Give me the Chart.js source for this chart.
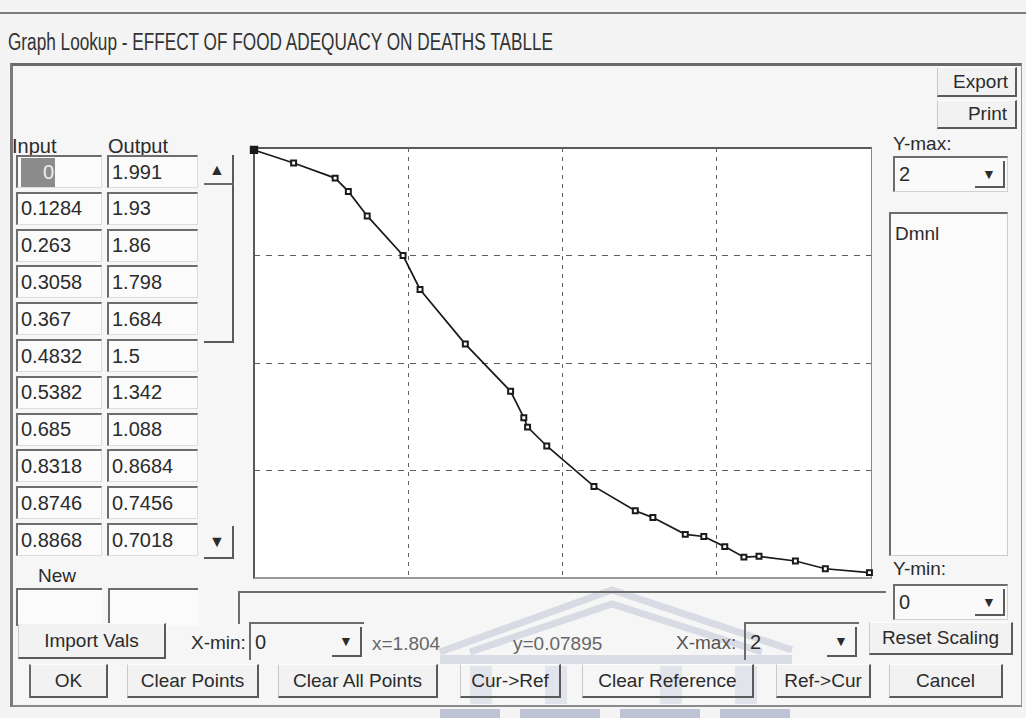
<!DOCTYPE html>
<html><head><meta charset="utf-8">
<script src="https://cdn.jsdelivr.net/npm/chart.js@4/dist/chart.umd.min.js"></script>
<style>
html,body{margin:0;padding:0;}
body{width:1026px;height:718px;position:relative;overflow:hidden;background:#f4f4f4;font-family:"Liberation Sans",Arial,sans-serif;color:#2b2b2b;}
.a{position:absolute;box-sizing:border-box;}
.t{position:absolute;white-space:pre;line-height:1;font-size:20px;color:#2b2b2b;}
.cell{position:absolute;box-sizing:border-box;background:#fbfbfb;border-top:2px solid #6d6d6d;border-left:2px solid #6d6d6d;border-bottom:1px solid #dcdcdc;border-right:1px solid #dcdcdc;font-size:20px;padding-left:3px;display:flex;align-items:center;white-space:pre;}
.btn{position:absolute;box-sizing:border-box;background:#f2f2f2;border-top:1px solid #fdfdfd;border-left:1px solid #c9c9c9;border-right:2px solid #5a5a5a;border-bottom:2px solid #5a5a5a;display:flex;align-items:center;justify-content:center;font-size:19px;white-space:pre;}
.combo{position:absolute;box-sizing:border-box;background:#fafafa;border-top:2px solid #6d6d6d;border-left:2px solid #6d6d6d;border-bottom:1px solid #d0d0d0;border-right:1px solid #d0d0d0;font-size:20px;padding-left:4px;display:flex;align-items:center;}
.dd{position:absolute;top:3px;bottom:3px;right:2px;width:30px;box-sizing:border-box;border-right:2px solid #5a5a5a;border-bottom:2px solid #5a5a5a;display:flex;align-items:center;justify-content:center;font-size:14px;}
</style></head>
<body>
<div class="a" style="left:0;top:12px;width:1026px;height:2px;background:#7a7a7a"></div>
<div class="t" id="title" style="left:8px;top:31px;font-size:23px;color:#333">Graph Lookup - EFFECT OF FOOD ADEQUACY ON DEATHS TABLLE</div>

<!-- main frame -->
<div class="a" style="left:10px;top:63px;width:1012px;height:644px;border-top:3px solid #6a6a6a;border-left:3px solid #7a7a7a;border-right:1px solid #9a9a9a;border-bottom:2px solid #8a8a8a;background:#f6f6f6"></div>

<svg class="a" style="left:0;top:0" width="1026" height="718">
  <g fill="none" stroke="#d8dbe4" stroke-width="7">
    <polyline points="440,652 612,590 792,650"/>
    <polyline points="470,652 612,604 762,652"/>
  </g>
  <rect x="440" y="655" width="352" height="9" fill="#dadde6"/>
  <rect x="470" y="666" width="22" height="38" fill="#e2e4ec"/>
  <rect x="545" y="666" width="22" height="38" fill="#e2e4ec"/>
  <rect x="660" y="666" width="22" height="38" fill="#e2e4ec"/>
  <rect x="735" y="666" width="22" height="38" fill="#e2e4ec"/>
  <rect x="440" y="709" width="60" height="9" fill="#bfc3d6"/>
  <rect x="520" y="709" width="80" height="9" fill="#bfc3d6"/>
  <rect x="620" y="709" width="80" height="9" fill="#bfc3d6"/>
  <rect x="720" y="709" width="70" height="9" fill="#bfc3d6"/>
</svg>

<div class="btn" style="left:937px;top:67px;width:80px;height:30px;justify-content:flex-end;padding-right:7px">Export</div>
<div class="btn" style="left:937px;top:100px;width:80px;height:29px;justify-content:flex-end;padding-right:8px">Print</div>

<div class="t" style="left:12px;top:136px">Input</div>
<div class="t" style="left:108px;top:136px">Output</div>

<div id="table"></div>

<!-- scroll bar -->
<div class="a" style="left:204px;top:155px;width:30px;height:188px;border-right:2px solid #5a5a5a;border-bottom:2px solid #5a5a5a;"></div>
<div class="a" style="left:204px;top:183px;width:30px;height:2px;background:#6a6a6a"></div>
<div class="t" style="left:209px;top:162px;font-size:16px">▲</div>
<div class="a" style="left:204px;top:526px;width:30px;height:33px;border-right:2px solid #5a5a5a;border-bottom:2px solid #5a5a5a;"></div>
<div class="t" style="left:209px;top:534px;font-size:16px">▼</div>

<div class="t" style="left:38px;top:566px;font-size:19px">New</div>
<div class="cell" style="left:16px;top:588px;width:86px;height:38px;border-bottom:none;border-right:none"></div>
<div class="cell" style="left:108px;top:588px;width:90px;height:38px;border-bottom:none;border-right:none"></div>

<!-- status box below plot -->
<div class="a" style="left:238px;top:591px;width:648px;height:33px;border-top:2px solid #6d6d6d;border-left:2px solid #6d6d6d;"></div>

<!-- plot -->
<div class="a" style="left:253px;top:147px;width:619px;height:432px;background:#fff;border-top:2px solid #5a5a5a;border-left:2px solid #5a5a5a;border-right:1px solid #8a8a8a;border-bottom:2px solid #9a9a9a"></div>
<div class="a" style="left:245px;top:139px;width:634px;height:448px"><canvas id="c" width="634" height="448"></canvas></div>

<!-- right panel -->
<div class="t" style="left:893px;top:134px;font-size:19px">Y-max:</div>
<div class="combo" style="left:893px;top:156px;width:115px;height:36px"><span id="ymaxv"></span><div class="dd">▼</div></div>
<div class="a" style="left:889px;top:212px;width:119px;height:344px;background:#fbfbfb;border-top:2px solid #6d6d6d;border-left:2px solid #6d6d6d;border-right:1px solid #ccc;border-bottom:1px solid #ccc"></div>
<div class="t" id="units" style="left:895px;top:224px;font-size:19px"></div>
<div class="t" style="left:893px;top:559px;font-size:19px">Y-min:</div>
<div class="combo" style="left:893px;top:584px;width:115px;height:36px"><span id="yminv"></span><div class="dd">▼</div></div>

<!-- lower controls -->
<div class="btn" style="left:18px;top:623px;width:148px;height:36px">Import Vals</div>
<div class="t" style="left:191px;top:633px;font-size:19px">X-min:</div>
<div class="combo" style="left:249px;top:622px;width:115px;height:38px;background:transparent;border-bottom:none;border-right:none"><span id="xminv"></span><div class="dd">▼</div></div>
<div class="t" id="curx" style="left:372px;top:634px;font-size:19px;color:#666"></div>
<div class="t" id="cury" style="left:513px;top:634px;font-size:19px;color:#666"></div>
<div class="t" style="left:676px;top:633px;font-size:19px;color:#555">X-max:</div>
<div class="combo" style="left:744px;top:622px;width:115px;height:38px;background:transparent;border-bottom:none;border-right:none"><span id="xmaxv"></span><div class="dd">▼</div></div>
<div class="btn" style="left:869px;top:622px;width:144px;height:33px">Reset Scaling</div>

<div class="btn" style="left:29px;top:664px;width:79px;height:34px;border-left:2px solid #6a6a6a">OK</div>
<div class="btn" style="left:127px;top:664px;width:132px;height:34px">Clear Points</div>
<div class="btn" style="left:278px;top:664px;width:160px;height:34px">Clear All Points</div>
<div class="btn" style="left:460px;top:664px;width:101px;height:34px;background:transparent">Cur-&gt;Ref</div>
<div class="btn" style="left:582px;top:664px;width:172px;height:34px;background:transparent">Clear Reference</div>
<div class="btn" style="left:776px;top:664px;width:95px;height:34px">Ref-&gt;Cur</div>
<div class="btn" style="left:889px;top:664px;width:114px;height:34px">Cancel</div>

<script>
// ---- data ----
const inputs  = [0, 0.1284, 0.263, 0.3058, 0.367, 0.4832, 0.5382, 0.685, 0.8318, 0.8746, 0.8868, 0.949, 1.102, 1.236, 1.293, 1.398, 1.458, 1.526, 1.588, 1.637, 1.755, 1.852, 1.995];
const outputs = [1.991, 1.93, 1.86, 1.798, 1.684, 1.5, 1.342, 1.088, 0.8684, 0.7456, 0.7018, 0.614, 0.426, 0.313, 0.281, 0.203, 0.193, 0.146, 0.097, 0.101, 0.079, 0.043, 0.025];
const visibleRows = 11;
const xMin = 0, xMax = 2, yMin = 0, yMax = 2;
const gridStep = 0.5;
const unitsLabel = "Dmnl";
const cursorX = "x=1.804", cursorY = "y=0.07895";

// ---- text fields ----
document.getElementById('ymaxv').textContent = String(yMax);
document.getElementById('yminv').textContent = String(yMin);
document.getElementById('xminv').textContent = String(xMin);
document.getElementById('xmaxv').textContent = String(xMax);
document.getElementById('units').textContent = unitsLabel;
document.getElementById('curx').textContent = cursorX;
document.getElementById('cury').textContent = cursorY;

const tbl = document.getElementById('table');
for (let i = 0; i < visibleRows; i++) {
  const top = 155 + i * 36.8;
  const a = document.createElement('div');
  a.className = 'cell';
  a.style.cssText = `left:16px;top:${top}px;width:86px;height:33px;`;
  if (i === 0) {
    a.innerHTML = `<span style="background:#8c8c8c;color:#eee;padding:3px 1px 3px 22px;">${inputs[i]}</span>`;
  } else a.textContent = String(inputs[i]);
  const b = document.createElement('div');
  b.className = 'cell';
  b.style.cssText = `left:107px;top:${top}px;width:91px;height:33px;`;
  b.textContent = String(outputs[i]);
  tbl.appendChild(a); tbl.appendChild(b);
}

// fit title width
const tt = document.getElementById('title');
const w = tt.getBoundingClientRect().width;
tt.style.transformOrigin = 'left center';
tt.style.transform = `scaleX(${545 / w})`;

// ---- chart ----
const pts = inputs.map((x, i) => ({x, y: outputs[i]}));
const hideEdge = (ctx) => (ctx.tick && (ctx.tick.value <= xMin || ctx.tick.value >= xMax)) ? 'rgba(0,0,0,0)' : '#5e5e5e';
new Chart(document.getElementById('c'), {
  type: 'scatter',
  data: {datasets: [{
    data: pts,
    showLine: true,
    borderColor: '#1a1a1a',
    borderWidth: 1.7,
    pointStyle: 'rect',
    pointRadius: pts.map((p, i) => i === 0 ? 4.5 : 3.5),
    pointBorderWidth: 2,
    pointBorderColor: '#1a1a1a',
    pointBackgroundColor: pts.map((p, i) => i === 0 ? '#1a1a1a' : '#ffffff'),
    clip: false
  }]},
  options: {
    responsive: false,
    animation: false,
    layout: {padding: {left: 9, right: 8, top: 9, bottom: 9}},
    plugins: {legend: {display: false}, tooltip: {enabled: false}},
    scales: {
      x: {type: 'linear', min: xMin, max: xMax,
          ticks: {display: false, stepSize: gridStep},
          grid: {drawTicks: false, color: hideEdge, lineWidth: 1},
          border: {display: false, dash: [4, 5]}},
      y: {type: 'linear', min: yMin, max: yMax,
          ticks: {display: false, stepSize: gridStep},
          grid: {drawTicks: false, color: hideEdge, lineWidth: 1},
          border: {display: false, dash: [6, 6]}}
    }
  }
});
</script>
</body></html>
